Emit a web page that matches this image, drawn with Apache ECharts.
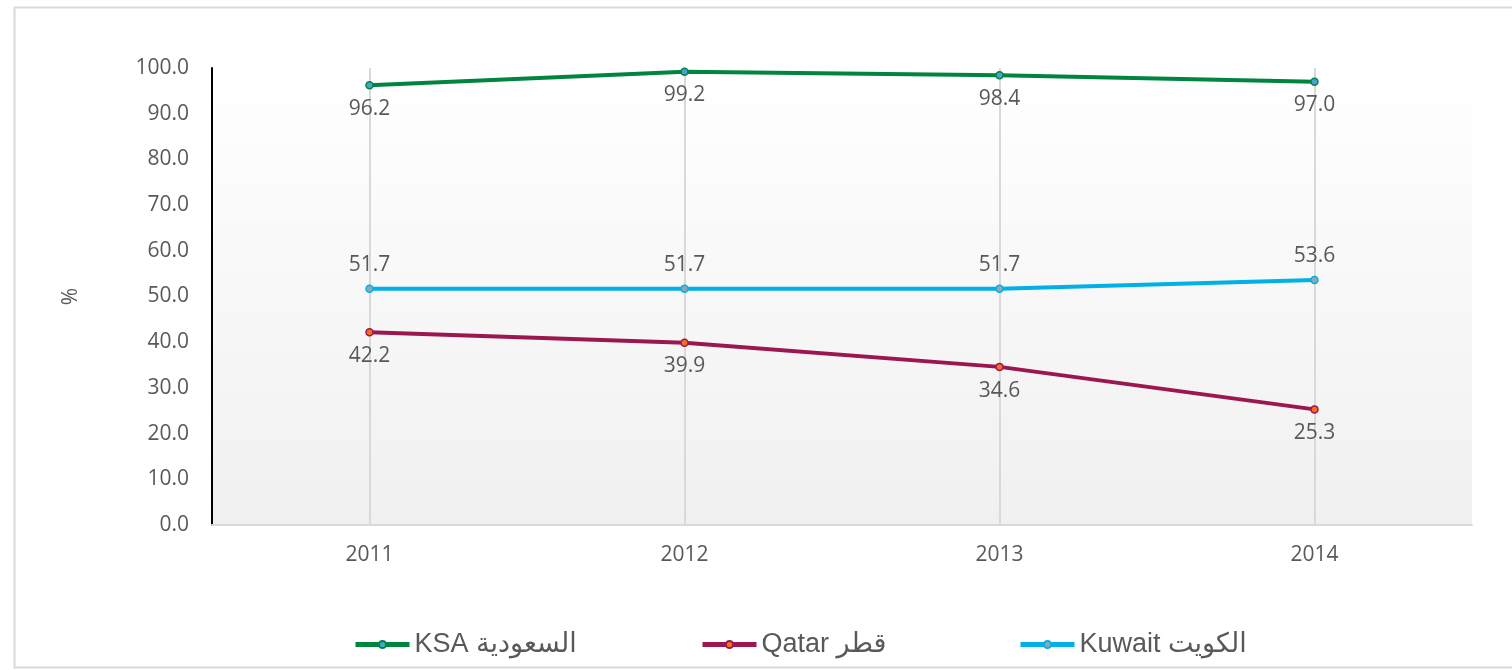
<!DOCTYPE html>
<html>
<head>
<meta charset="utf-8">
<script src="https://cdn.jsdelivr.net/npm/echarts@6/dist/echarts.min.js"></script>
<style>
html, body {margin: 0; padding: 0; background: #fff;}
#chart {width: 1512px; height: 670px;}
</style>
</head>
<body>
<div id="chart"></div>
<script>
var years = ['2011', '2012', '2013', '2014'];
var ksa = [96.2, 99.2, 98.4, 97.0];
var qatar = [42.2, 39.9, 34.6, 25.3];
var kuwait = [51.7, 51.7, 51.7, 53.6];
var names = ['KSA السعودية', 'Qatar قطر', 'Kuwait الكويت'];

const label_font = '"Open Sans", "Noto Sans", sans-serif';
const legend_font = '"Liberation Sans Narrow", "Liberation Sans", "DejaVu Sans", sans-serif';

function make_series(name, data, color, dot, pos) {
    return {
        name: name,
        type: 'line',
        data: data,
        symbol: 'circle',
        symbolSize: 7,
        lineStyle: {color: color, width: 4},
        itemStyle: {color: dot, borderColor: color, borderWidth: 1.5},
        label: {
            show: true, position: pos, distance: 9,
            color: '#595959', fontSize: 21, fontFamily: label_font,
            formatter: (p) => p.value.toFixed(1),
        },
        emphasis: {disabled: true},
    };
}

function make_legend(name, left) {
    return {
        data: [name], left: left, top: 626,
        itemWidth: 54, itemHeight: 9,
        lineStyle: {width: 5},
        textStyle: {color: '#595959', fontSize: 27, fontFamily: legend_font},
    };
}

var chart = echarts.init(document.getElementById('chart'));
chart.setOption({
    animation: false,
    graphic: [{
        type: 'rect', left: 12, top: 5, z: -10,
        shape: {width: 1520, height: 660},
        style: {fill: 'none', stroke: '#d9d9d9', lineWidth: 2},
    }],
    legend: [
        make_legend(names[0], 348),
        make_legend(names[1], 695),
        make_legend(names[2], 1013),
    ],
    grid: {
        left: 212, right: 40, top: 68, bottom: 145,
        show: true, borderWidth: 0,
        backgroundColor: new echarts.graphic.LinearGradient(0, 0, 0, 1, [
            {offset: 0, color: '#ffffff'},
            {offset: 1, color: '#f0f0f0'},
        ]),
    },
    xAxis: {
        type: 'category', data: years, boundaryGap: true,
        axisLine: {lineStyle: {color: '#d9d9d9', width: 2}},
        axisTick: {show: false},
        axisLabel: {color: '#595959', fontSize: 21, fontFamily: label_font, margin: 20},
        splitLine: {show: true, alignWithLabel: true, lineStyle: {color: '#d9d9d9', width: 2}},
    },
    yAxis: {
        type: 'value', min: 0, max: 100, interval: 10,
        name: '%', nameLocation: 'middle', nameGap: 130, nameRotate: 90,
        nameTextStyle: {color: '#595959', fontSize: 21, fontFamily: label_font},
        axisLine: {show: true, lineStyle: {color: '#000000', width: 2}},
        axisTick: {show: false},
        axisLabel: {color: '#595959', fontSize: 21, fontFamily: label_font, margin: 23,
                    formatter: (v) => v.toFixed(1)},
        splitLine: {show: false},
    },
    series: [
        make_series(names[0], ksa, '#00853f', '#4f9fd0', 'bottom'),
        make_series(names[1], qatar, '#9c1750', '#f07020', 'bottom'),
        make_series(names[2], kuwait, '#00b0e6', '#8fa8b8', 'top'),
    ],
});
</script>
</body>
</html>
